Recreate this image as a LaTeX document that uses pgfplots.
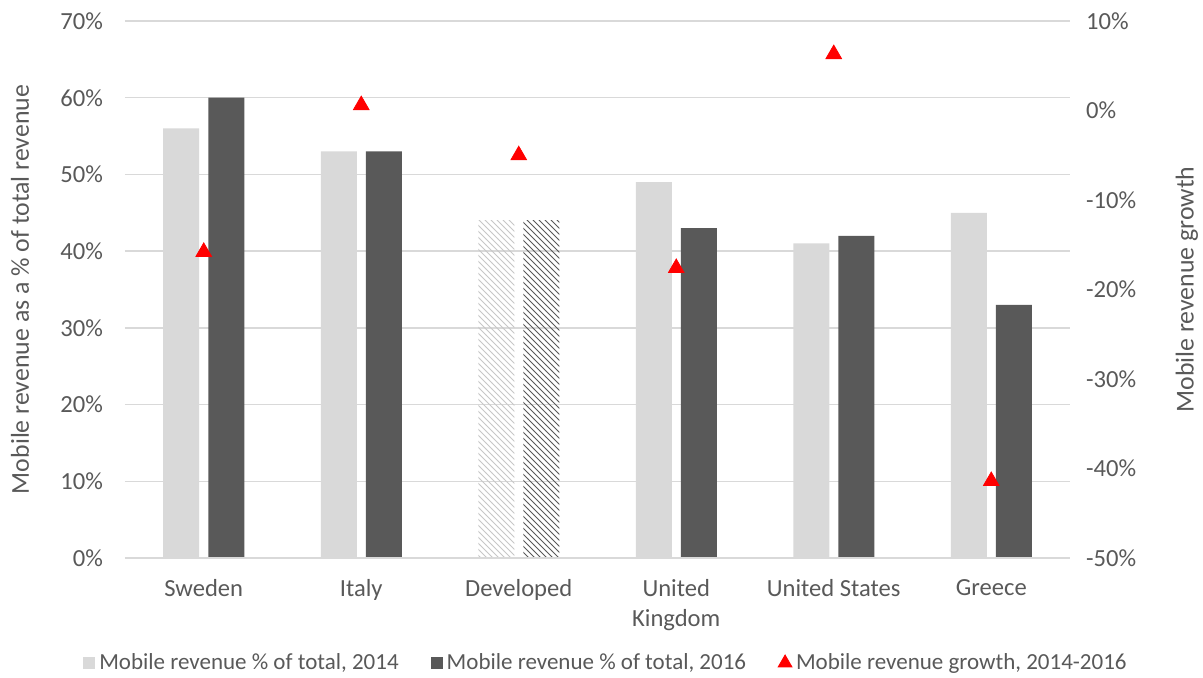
\documentclass[border=0pt]{standalone}
\usepackage{pgfplots}
\pgfplotsset{compat=1.18}
\usepackage{fontspec}
\setmainfont{Carlito}
\usetikzlibrary{patterns}
\definecolor{txt}{RGB}{89,89,89}
\definecolor{dk}{RGB}{89,89,89}
\definecolor{lt}{RGB}{217,217,217}
\definecolor{gridc}{RGB}{217,217,217}
\begin{document}
\begin{tikzpicture}
\useasboundingbox (-62.5pt,-59.5pt) rectangle (539pt,279pt);
\begin{axis}[
  name=ax, at={(0,0)}, anchor=south west,
  scale only axis, width=472.5pt, height=268.5pt,
  xmin=-0.5, xmax=5.5, ymin=0, ymax=70,
  ytick={0,10,...,70},
  yticklabels={0\%,10\%,20\%,30\%,40\%,50\%,60\%,70\%},
  xtick={0,...,5},
  xticklabels={Sweden,Italy,Developed,United\\Kingdom,United States,Greece},
  xticklabel style={align=center, font=\fontsize{12.3}{15}\selectfont, text=txt, yshift=-7pt},
  yticklabel style={font=\fontsize{12.3}{14.5}\selectfont, text=txt, xshift=-7.5pt},
  ylabel={Mobile revenue as a \% of total revenue},
  every axis y label/.style={at={(axis description cs:-0.1111,0.5)}, anchor=center, rotate=90,
    font=\fontsize{12.9}{15}\selectfont, text=txt},
  axis line style={draw=none},
  major tick length=0pt,
  ymajorgrids, grid style={gridc, line width=0.7pt},
  legend columns=3,
  legend style={at={(0.51,-0.1955)}, anchor=center, draw=none,
    font=\fontsize{11.5}{13}\selectfont, text=txt,
    /tikz/every even column/.append style={column sep=14pt},
    /tikz/every odd column/.append style={column sep=0pt}},
  legend cell align=left,
]
\addplot[ybar, bar width=18pt, bar shift=-11.25pt, fill=lt, draw=none,
  legend image code/.code={\fill[lt] (0pt,-3pt) rectangle (6pt,3pt);}]
  coordinates {(0,56)(1,53)(3,49)(4,41)(5,45)};
\addlegendentry{Mobile revenue \% of total, 2014}
\addplot[ybar, bar width=18pt, bar shift=11.25pt, fill=dk, draw=none,
  legend image code/.code={\fill[dk] (0pt,-3pt) rectangle (6pt,3pt);}]
  coordinates {(0,60)(1,53)(3,43)(4,42)(5,33)};
\addlegendentry{Mobile revenue \% of total, 2016}
\addplot[ybar, bar width=18pt, bar shift=-11.25pt, draw=none, pattern=north west lines, pattern color=lt!80!gray, forget plot]
  coordinates {(2,44)};
\addplot[ybar, bar width=18pt, bar shift=11.25pt, draw=none, pattern=north west lines, pattern color=dk, forget plot]
  coordinates {(2,44)};
\addlegendimage{only marks, mark=triangle*, mark size=4pt, red}
\addlegendentry{Mobile revenue growth, 2014-2016}
\draw[gridc, line width=1pt] (rel axis cs:0,0) -- (rel axis cs:1,0);
\end{axis}
\begin{axis}[
  at={(0,0)}, anchor=south west,
  scale only axis, width=472.5pt, height=268.5pt,
  xmin=-0.5, xmax=5.5, ymin=-50, ymax=10,
  axis y line*=right, axis x line=none,
  axis line style={draw=none},
  major tick length=0pt,
  ytick={-50,-40,...,10},
  yticklabels={-50\%,-40\%,-30\%,-20\%,-10\%,0\%,10\%},
  yticklabel style={font=\fontsize{12.3}{14.5}\selectfont, text=txt, xshift=4.5pt},
  ylabel={Mobile revenue growth},
  every axis y label/.style={at={(axis description cs:1.1238,0.5)}, anchor=center, rotate=90,
    font=\fontsize{12.9}{15}\selectfont, text=txt},
  clip=false,
]
\addplot[only marks, mark=triangle*, mark size=4.5pt, red]
  coordinates {(0,-15.8)(1,0.6)(2,-5.0)(3,-17.6)(4,6.3)(5,-41.4)};
\end{axis}
\end{tikzpicture}
\end{document}
